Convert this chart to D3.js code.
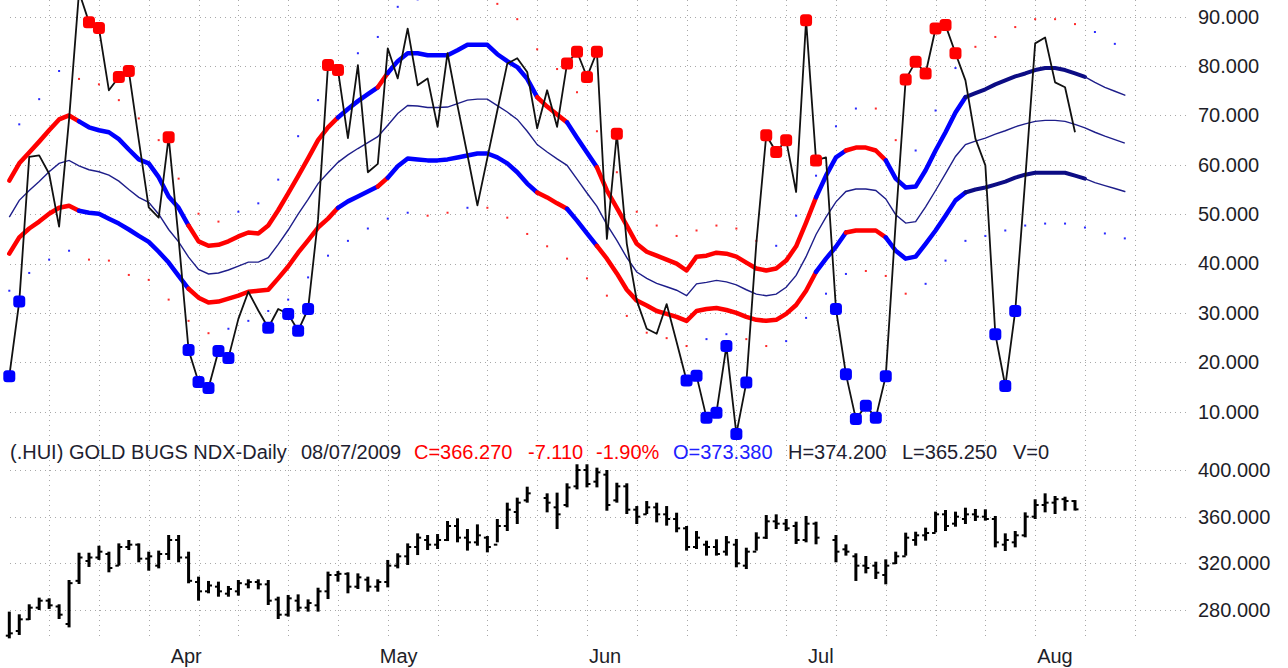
<!DOCTYPE html>
<html><head><meta charset="utf-8">
<script src="https://cdn.jsdelivr.net/npm/d3@7"></script>
<style>
body{margin:0;background:#fff;}
svg{display:block;}
text{font-family:"Liberation Sans",Arial,sans-serif;}
</style>
</head><body>
<svg id="chart" width="1288" height="668"></svg>
<script>
// ---------------- DATA ----------------
// price bars (slot index = trading day, null = holiday slot)
const barHigh = [278.6,276.3,284.9,290.6,290.0,284.9,305.7,329.1,329.1,335.1,
 330.0,337.1,340.0,337.1,330.0,330.9,344.3,344.3,330.0,308.6,
 304.9,304.3,300.6,305.7,306.3,306.3,305.7,291.4,292.9,293.4,
 289.1,299.1,312.9,313.4,312.3,311.4,308.6,306.3,322.9,328.6,
 337.1,345.7,344.3,345.1,356.3,358.6,349.4,353.4,343.4,358.0,
 372.0,376.3,385.7,null,380.0,380.6,388.6,404.9,404.9,402.0,
 400.0,389.1,388.6,369.1,373.4,372.0,369.1,363.4,352.0,347.7,
 339.4,340.6,343.4,340.9,333.4,346.6,361.4,362.0,358.0,355.7,
 360.6,355.7,null,344.3,336.3,328.6,326.3,321.4,323.4,330.0,
 346.3,347.1,350.6,364.3,365.7,364.3,367.7,366.6,366.3,360.6,
 345.7,347.7,363.7,374.9,380.0,377.7,377.1,374.2];
const barLow = [255.7,258.6,271.4,280.0,280.9,272.3,265.1,302.3,316.9,322.9,
 312.3,318.0,331.4,320.9,313.7,315.7,322.9,320.9,302.9,288.0,
 294.3,291.4,291.4,292.3,298.6,297.7,284.3,272.3,274.3,278.6,
 278.6,278.6,289.4,304.3,294.3,298.0,295.7,295.7,299.4,315.7,
 318.6,327.1,331.4,332.3,339.1,338.0,330.9,335.1,329.4,338.0,
 347.7,353.7,372.0,null,363.7,349.4,368.0,383.4,385.1,385.1,
 365.1,372.0,362.3,353.7,362.3,355.1,352.3,346.6,330.9,332.3,
 326.6,326.6,326.6,316.6,315.1,330.9,340.9,349.4,347.7,336.6,
 338.0,336.3,null,320.9,326.6,304.9,311.4,306.6,302.0,319.4,
 326.6,335.1,339.4,346.6,347.7,351.4,353.7,356.3,356.6,333.7,
 330.6,333.7,342.3,358.0,363.7,362.3,365.1,365.25];
const barOpen = [258,262,272,282,288,283,268,305,322,325,
 328,318,334,336,324,318,328,340,325,304,
 296,300,294,296,302,304,302,289,276,288,
 282,284,296,310,311,300,306,300,304,318,
 326,334,340,336,340,352,342,338,342,336,
 352,364,374,null,376,368,370,386,400,390,
 396,374,386,366,362,368,362,358,350,334,
 336,334,330,336,318,330,342,356,354,352,
 340,354,null,340,332,326,318,318,310,320,
 326,340,344,346,362,354,358,362,360,358,
 336,338,344,360,370,372,375,373.38];
const barClose = [260,272,282,288,284,276,303,325,325,330,
 316,334,336,324,326,328,340,325,305,296,
 301,296,298,303,304,302,288,276,290,282,
 286,296,310,311,300,308,300,304,318,326,
 334,342,336,340,352,342,338,344,334,352,
 366,372,380,null,372,362,385,400,388,398,
 370,386,366,360,368,362,358,350,334,342,
 334,328,338,320,330,342,356,354,350,340,
 354,342,null,330,330,318,316,312,318,326,
 342,344,346,362,352,360,362,360,358,338,
 340,344,360,370,372,375,373.4,366.27];

// oscillator (black line)
const oscillator = [17.2,32.3,61.6,61.9,58.2,47.5,69.2,95,88.9,87.7,
 75.1,77.8,79.0,65.0,51.4,49.3,65.6,45.0,22.5,16.0,
 14.8,22.3,20.9,28.8,34.3,30.5,27.0,30.8,29.8,26.4,
 30.8,49.0,80.2,79.2,65.4,80.2,58.5,60.2,83.6,77.5,
 87.6,76.1,77.5,67.7,82.6,72.0,62.0,51.8,61.4,71.0,
 80.5,81.6,78.8,67.4,75.1,67.7,80.5,82.9,77.8,82.9,
 45.0,66.3,44.0,32.5,26.8,25.8,31.8,24.1,16.3,17.3,
 8.8,9.8,23.3,5.5,15.9,44.0,66.0,62.6,65.0,54.5,
 89.3,60.9,61.5,30.8,17.6,8.5,11.2,8.8,17.2,48.5,
 77.3,80.9,78.5,87.6,88.3,82.6,77.1,65.3,59.9,25.7,
 15.2,30.4,57.0,84.6,85.8,76.7,75.7,66.6];

// bands (extend 5 slots past the last bar)
const upperBand = [56.8,60.3,62.5,64.7,67.0,69.2,70.0,68.8,67.6,67.0,
 66.6,65.2,63.1,61.1,60.3,57.5,53.6,51.3,47.7,44.5,
 43.6,43.8,44.5,45.5,46.3,46.1,47.7,50.8,54.2,57.7,
 61.3,65.0,67.6,69.6,71.3,72.9,74.3,75.7,78.6,81.0,
 82.6,82.6,82.2,82.2,82.2,83.2,84.3,84.3,84.3,82.4,
 81.0,79.8,77.4,73.7,71.8,70.2,68.6,65.5,62.5,59.5,
 54.8,51.3,47.7,44.0,42.4,41.6,40.8,40.0,38.6,41.4,
 41.6,42.2,42.0,41.4,40.2,39.0,38.6,39.0,40.6,43.5,
 48.3,53.4,57.8,61.5,62.9,63.5,63.5,62.9,60.9,57.2,
 55.4,55.6,58.9,62.9,66.6,70.6,73.7,74.5,75.3,76.3,
 77.1,77.9,78.5,79.2,79.6,79.6,79.2,78.5,77.8,76.7,
 75.7,74.9,74.1];
const middleBand = [49.4,52.8,54.8,56.6,58.6,60.3,60.9,59.8,59.0,58.6,
 57.9,56.7,55.0,53.4,52.4,50.0,46.9,44.4,41.3,38.8,
 37.9,38.1,38.7,39.5,40.3,40.3,41.2,43.9,46.8,50.0,
 53.0,56.2,58.4,60.5,62.0,63.3,64.5,65.7,68.0,70.4,
 72.0,71.9,71.6,71.6,71.7,72.4,73.1,73.3,73.3,72.0,
 70.7,69.2,66.8,64.1,62.6,61.2,59.9,57.1,54.3,51.6,
 47.9,44.7,41.2,38.3,37.0,36.0,35.3,34.6,33.5,35.9,
 36.2,36.6,36.3,35.7,34.7,33.8,33.5,33.8,35.2,37.6,
 41.4,45.9,49.4,52.5,54.6,55.1,55.1,54.8,53.1,49.9,
 48.2,48.5,51.5,54.8,58.2,61.7,64.1,64.8,65.4,66.2,
 66.9,67.7,68.3,68.8,69.0,69.0,68.8,68.2,67.5,66.6,
 65.8,65.1,64.4];
const lowerBand = [42.0,45.3,47.1,48.5,50.1,51.3,51.7,50.7,50.3,50.1,
 49.1,48.1,46.9,45.6,44.4,42.4,40.2,37.5,34.9,33.1,
 32.1,32.3,32.9,33.5,34.3,34.5,34.7,37.0,39.4,42.2,
 44.7,47.3,49.1,51.3,52.6,53.6,54.6,55.6,57.4,59.7,
 61.3,61.1,60.9,60.9,61.1,61.5,61.9,62.3,62.3,61.5,
 60.3,58.5,56.2,54.4,53.4,52.2,51.1,48.7,46.1,43.6,
 41.0,38.0,34.7,32.5,31.5,30.4,29.8,29.2,28.4,30.4,
 30.8,31.0,30.6,30.0,29.2,28.6,28.4,28.6,29.8,31.6,
 34.5,38.3,41.0,43.4,46.3,46.7,46.7,46.7,45.3,42.6,
 41.0,41.4,44.0,46.7,49.7,52.8,54.4,55.0,55.4,56.0,
 56.6,57.4,58.0,58.4,58.4,58.4,58.4,57.8,57.2,56.4,
 55.8,55.2,54.6];
// band state runs: [fromSlot, toSlot, state]  r=sell, b=buy, n=current, p=projection
const bandRuns = [[0,7,"r"],[7,18,"b"],[18,33,"r"],[33,37,"b"],[37,38,"r"],[38,53,"b"],
 [53,56,"r"],[56,59,"b"],[59,81,"r"],[81,84,"b"],[84,88,"r"],[88,96,"b"],[96,108,"n"],[108,112,"p"]];

// signal markers (slots)
const redSignals = [8,9,11,12,16,32,33,56,57,58,59,61,76,77,78,80,81,90,91,92,93,94,95];
const blueSignals = [0,1,18,19,20,21,22,26,28,29,30,68,69,70,71,72,73,74,83,84,85,86,87,88,99,100,101];

// outer dotted envelopes: [slot, value, state]
const upperDots = [[1,68.2,"b"],[3,73.3,"b"],[5,79.0,"b"],[7,77.4,"r"],[9,76.3,"r"],[11,73.1,"r"],
 [13,69.4,"r"],[15,65.0,"r"],[17,57.2,"r"],[19,50.1,"r"],[21,48.5,"r"],[23,50.5,"b"],[25,52.2,"b"],
 [27,57.0,"b"],[29,65.8,"b"],[31,73.1,"b"],[33,78.2,"b"],[35,82.6,"b"],[37,85.9,"b"],[39,92.0,"b"],
 [41,93.5,"b"],[43,93.6,"r"],[45,94.5,"r"],[47,94.5,"r"],[49,92.6,"r"],[51,89.5,"r"],[53,83.4,"r"],
 [55,79.4,"r"],[57,74.7,"r"],[59,66.8,"r"],[61,58.5,"r"],[63,50.5,"r"],[65,47.7,"r"],[67,45.6,"r"],
 [69,46.7,"r"],[71,47.7,"r"],[73,47.1,"r"],[75,44.6,"r"],[77,43.6,"b"],[79,49.7,"b"],[81,57.8,"b"],
 [83,67.8,"b"],[85,71.4,"b"],[87,71.4,"r"],[89,65.0,"r"],[91,62.9,"b"],[93,71.0,"b"],[95,79.6,"b"],
 [97,83.9,"r"],[99,85.9,"r"],[101,87.9,"r"],[103,89.5,"r"],[105,89.5,"r"],[107,88.5,"r"],
 [109,86.9,"b"],[111,84.5,"b"]];
const lowerDots = [[0,34.5,"b"],[2,38.1,"b"],[4,40.8,"b"],[6,42.6,"b"],[8,40.8,"r"],[10,40.6,"r"],
 [12,37.7,"r"],[14,36.7,"r"],[16,32.7,"r"],[18,28.4,"r"],[20,25.9,"r"],[22,26.8,"b"],[24,28.4,"b"],
 [26,30.4,"b"],[28,32.7,"b"],[30,37.2,"b"],[32,41.6,"b"],[34,44.6,"b"],[36,47.1,"b"],[38,49.1,"b"],
 [40,50.3,"b"],[42,49.7,"r"],[44,50.3,"r"],[46,51.3,"b"],[48,51.3,"r"],[50,49.3,"r"],[52,46.0,"r"],
 [54,43.5,"r"],[56,41.0,"r"],[58,37.0,"r"],[60,33.5,"r"],[62,29.4,"r"],[64,26.0,"r"],[66,24.9,"r"],
 [68,23.3,"r"],[70,24.7,"b"],[72,25.7,"b"],[74,24.7,"r"],[76,23.3,"r"],[78,24.3,"b"],[80,29.0,"b"],
 [82,33.9,"b"],[84,37.9,"b"],[86,38.5,"r"],[88,37.5,"r"],[90,33.9,"r"],[92,35.9,"b"],[94,40.6,"b"],
 [96,44.6,"b"],[98,45.6,"b"],[100,46.7,"b"],[102,47.7,"b"],[104,48.1,"b"],[106,48.1,"b"],
 [108,47.3,"b"],[110,46.1,"b"],[112,45.1,"b"]];

// axes
const topTicks = [90,80,70,60,50,40,30,20,10];
const bottomTicks = [400,360,320,280];
const monthSlots = [16,37,58,80,103];
const monthNames = ["Apr","May","Jun","Jul","Aug"];
const weekSlots = [4,9,14,19,23,28,33,38,43,48,53,58,63,68,73,78,83,88,93,98,103,108,113];
const legendTexts = ["(.HUI) GOLD BUGS NDX-Daily","08/07/2009","C=366.270","-7.110","-1.90%",
 "O=373.380","H=374.200","L=365.250","V=0"];

// ---------------- DRAW ----------------
const svg = d3.select("#chart");
const x = d3.scaleLinear().domain([0,107]).range([9.3,1075]);
const yTop = d3.scaleLinear().domain([10,90]).range([411.7,16.7]);
const yBot = d3.scaleLinear().domain([280,400]).range([610,470]);

const gridColor = "#a8a8a8";
svg.append("g").selectAll("line").data(weekSlots).join("line")
  .attr("x1",d=>Math.round(x(d))+0.5).attr("x2",d=>Math.round(x(d))+0.5)
  .attr("y1",0).attr("y2",640)
  .attr("stroke",gridColor).attr("stroke-width",1).attr("stroke-dasharray","1,4");
svg.append("g").selectAll("line").data(topTicks).join("line")
  .attr("x1",10).attr("x2",1187)
  .attr("y1",d=>Math.round(yTop(d))+0.5).attr("y2",d=>Math.round(yTop(d))+0.5)
  .attr("stroke",gridColor).attr("stroke-width",1).attr("stroke-dasharray","1,4");
svg.append("g").selectAll("line").data(bottomTicks).join("line")
  .attr("x1",10).attr("x2",1187)
  .attr("y1",d=>Math.round(yBot(d))+0.5).attr("y2",d=>Math.round(yBot(d))+0.5)
  .attr("stroke",gridColor).attr("stroke-width",1).attr("stroke-dasharray","1,4");

svg.append("defs").append("clipPath").attr("id","topClip")
  .append("rect").attr("x",0).attr("y",0).attr("width",1190).attr("height",445);
const topG = svg.append("g").attr("clip-path","url(#topClip)");

const dotColor = {r:"#ff2a2a", b:"#2a2aff"};
topG.selectAll("rect.dot").data(upperDots.concat(lowerDots)).join("rect")
  .attr("x",d=>x(d[0])-1).attr("y",d=>yTop(d[1])-1)
  .attr("width",2).attr("height",2).attr("fill",d=>dotColor[d[2]]);

const bandStyle = {r:["#ff0000",4.5], b:["#0000ff",4.5], n:["#0c0c84",4], p:["#1e1e8a",1.4]};
const lineGen = arr => d3.line().x(i=>x(i)).y(i=>yTop(arr[i]));
[upperBand, lowerBand].forEach(arr=>{
  bandRuns.forEach(([s,e,st])=>{
    topG.append("path").attr("d", lineGen(arr)(d3.range(s,e+1)))
      .attr("fill","none").attr("stroke",bandStyle[st][0]).attr("stroke-width",bandStyle[st][1])
      .attr("stroke-linejoin","round").attr("stroke-linecap","round");
  });
});
topG.append("path").attr("d", lineGen(middleBand)(d3.range(middleBand.length)))
  .attr("fill","none").attr("stroke","#1e1e8a").attr("stroke-width",1.4);

topG.append("path").attr("d", lineGen(oscillator)(d3.range(oscillator.length)))
  .attr("fill","none").attr("stroke","#111").attr("stroke-width",1.8).attr("stroke-linejoin","round");

const markers = svg.append("g");
const mk = (list,color)=>markers.append("g").selectAll("rect").data(list).join("rect")
  .attr("x",i=>x(i)-6).attr("y",i=>yTop(oscillator[i])-6)
  .attr("width",12).attr("height",12).attr("rx",3.5).attr("fill",color);
mk(redSignals,"#ff0000");
mk(blueSignals,"#0000ff");

const bars = svg.append("g").attr("stroke","#000");
const idx = d3.range(barHigh.length).filter(i=>barHigh[i]!==null);
bars.append("g").selectAll("line").data(idx).join("line")
  .attr("x1",i=>x(i)).attr("x2",i=>x(i))
  .attr("y1",i=>yBot(barHigh[i])).attr("y2",i=>yBot(barLow[i])).attr("stroke-width",3);
bars.append("g").selectAll("line").data(idx).join("line")
  .attr("x1",i=>x(i)-3.5).attr("x2",i=>x(i))
  .attr("y1",i=>yBot(barOpen[i])).attr("y2",i=>yBot(barOpen[i])).attr("stroke-width",2);
bars.append("g").selectAll("line").data(idx).join("line")
  .attr("x1",i=>x(i)).attr("x2",i=>x(i)+3.5)
  .attr("y1",i=>yBot(barClose[i])).attr("y2",i=>yBot(barClose[i])).attr("stroke-width",2);

const styleAxis = g=>{ g.select(".domain").remove();
  g.selectAll("text").attr("font-size",20).attr("fill","#1e1e28").attr("text-anchor","start")
   .style("font-family","'Liberation Sans',Arial,sans-serif"); };
svg.append("g").attr("transform","translate(1198,0)")
  .call(d3.axisRight(yTop).tickValues(topTicks).tickSize(0).tickPadding(0).tickFormat(d3.format(".3f")))
  .call(styleAxis);
svg.append("g").attr("transform","translate(1198,0)")
  .call(d3.axisRight(yBot).tickValues(bottomTicks).tickSize(0).tickPadding(0).tickFormat(d3.format(".3f")))
  .call(styleAxis);

svg.append("g").attr("transform","translate(0,649)")
  .call(d3.axisBottom(x).tickValues(monthSlots).tickSize(0).tickPadding(0).tickFormat((d,i)=>monthNames[i]))
  .call(g=>{ g.select(".domain").remove();
    g.selectAll("text").attr("font-size",20).attr("fill","#1e1e28").attr("text-anchor","start")
     .attr("dx",1.5).attr("dy","0.71em").style("font-family","'Liberation Sans',Arial,sans-serif"); });

const legendX = [10,301,414,528,596,673,788,902,1013];
const legendColor = ["#1e1e30","#1e1e30","#ff0000","#ff0000","#ff0000","#2020ff","#1e1e30","#1e1e30","#1e1e30"];
svg.append("g").selectAll("text").data(legendTexts).join("text")
  .attr("x",(d,i)=>legendX[i]).attr("y",459)
  .attr("font-size",20).attr("fill",(d,i)=>legendColor[i]).text(d=>d);
</script>
</body></html>
